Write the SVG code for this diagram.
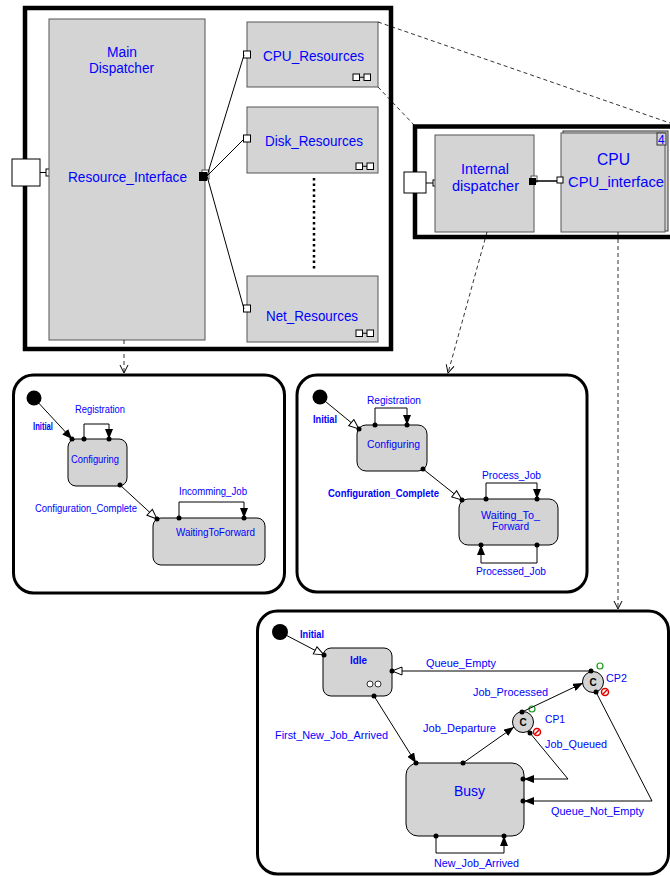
<svg xmlns="http://www.w3.org/2000/svg" width="670" height="876" viewBox="0 0 670 876">
<style>
.frame{fill:#fff;stroke:#000;stroke-width:4.5}
.box{fill:#d4d4d4;stroke:#555;stroke-width:1}
.sm{fill:#fff;stroke:#000;stroke-width:3}
.st{fill:#d4d4d4;stroke:#000;stroke-width:1}
.port{fill:#fff;stroke:#000;stroke-width:1}
.t{font-family:"Liberation Sans",Arial,sans-serif;fill:#0000ff}
.b{font-weight:bold}
.l{stroke:#000;stroke-width:1;fill:none}
.d{stroke:#000;stroke-width:0.8;stroke-dasharray:4 3;fill:none}
.dot{fill:#000}
.c{font-family:"Liberation Sans",Arial,sans-serif;font-weight:bold;font-size:10px;fill:#000;text-anchor:middle}
</style>
<defs>
<marker id="af" viewBox="0 0 10 8" refX="10" refY="4" markerWidth="10" markerHeight="8" orient="auto" markerUnits="userSpaceOnUse"><path d="M0,0 L10,4 L0,8 z" fill="#000"/></marker>
<marker id="ao" viewBox="0 0 12 10" refX="11" refY="5" markerWidth="12" markerHeight="10" orient="auto" markerUnits="userSpaceOnUse"><path d="M1,1 L11,5 L1,9 z" fill="#fff" stroke="#000" stroke-width="1"/></marker>
<marker id="av" viewBox="0 0 10 10" refX="9" refY="5" markerWidth="10" markerHeight="10" orient="auto" markerUnits="userSpaceOnUse"><path d="M1,1 L9,5 L1,9" fill="none" stroke="#000" stroke-width="1"/></marker>
<g id="icon2"><rect x="0" y="0" width="6.5" height="6.5" class="port"/><line x1="6.5" y1="3.25" x2="11" y2="3.25" class="l"/><rect x="11" y="0" width="6.5" height="6.5" class="port"/></g>
</defs>

<g id="main_frame">
<rect x="25" y="8" width="366" height="341" class="frame"/>
<rect x="12" y="159" width="28" height="27" class="port"/>
<line x1="40" y1="172.5" x2="46" y2="172.5" class="l"/>
<rect x="46" y="169" width="6" height="7" class="port"/>
</g>
<g id="main_dispatcher">
<rect x="49" y="19" width="156" height="321" class="box"/>
<text class="t" x="107" y="57" font-size="14" textLength="30" lengthAdjust="spacingAndGlyphs">Main</text>
<text class="t" x="89" y="73" font-size="14" textLength="65" lengthAdjust="spacingAndGlyphs">Dispatcher</text>
<text class="t" x="68" y="182" font-size="15" textLength="119" lengthAdjust="spacingAndGlyphs">Resource_Interface</text>
<rect x="202" y="170" width="7" height="9" fill="#fff" stroke="#555" stroke-width="1"/>
<rect x="199" y="172" width="8" height="9" fill="#000"/>
</g>
<g id="cpu_resources">
<rect x="247" y="22" width="131" height="65" class="box"/>
<rect x="243.5" y="51" width="7" height="7" class="port"/>
<text class="t" x="263" y="61" font-size="15" textLength="101" lengthAdjust="spacingAndGlyphs">CPU_Resources</text>
<use href="#icon2" x="353" y="74"/>
</g>
<g id="disk_resources">
<rect x="247" y="107" width="131" height="66" class="box"/>
<rect x="243.5" y="135" width="7" height="7" class="port"/>
<text class="t" x="265" y="146" font-size="15" textLength="98" lengthAdjust="spacingAndGlyphs">Disk_Resources</text>
<use href="#icon2" x="356" y="163"/>
</g>
<g id="net_resources">
<rect x="247" y="276" width="131" height="66" class="box"/>
<rect x="243.5" y="305" width="7" height="7" class="port"/>
<text class="t" x="266" y="321" font-size="15" textLength="92" lengthAdjust="spacingAndGlyphs">Net_Resources</text>
<use href="#icon2" x="356" y="330"/>
</g>

<g id="cpu_frame">
<rect x="415" y="126.5" width="270" height="110.5" class="frame"/>
<rect x="404" y="172" width="22" height="21" class="port"/>
<line x1="426" y1="183" x2="433" y2="183" class="l"/>
<rect x="433" y="180" width="5" height="6" class="port"/>
</g>
<g id="internal_dispatcher">
<rect x="435" y="135" width="99" height="97" class="box"/>
<text class="t" x="461" y="174" font-size="14" textLength="48" lengthAdjust="spacingAndGlyphs">Internal</text>
<text class="t" x="452" y="191" font-size="14" textLength="67" lengthAdjust="spacingAndGlyphs">dispatcher</text>
<rect x="531" y="176" width="6" height="6" fill="#fff" stroke="#555" stroke-width="1"/>
<rect x="529" y="178" width="7" height="7" fill="#000"/>
</g>
<g id="cpu">
<rect x="563" y="131" width="105" height="100" fill="#d4d4d4" stroke="#333" stroke-width="1"/>
<rect x="561" y="133" width="104" height="99" class="box"/>
<rect x="657" y="133" width="9" height="12" fill="#d4d4d4" stroke="#333" stroke-width="1"/>
<text class="t" x="658" y="144" font-size="12">4</text>
<rect x="557" y="177" width="6" height="6" class="port"/>
<text class="t" x="597" y="165" font-size="16" textLength="33" lengthAdjust="spacingAndGlyphs">CPU</text>
<text class="t" x="568" y="187" font-size="15" textLength="96" lengthAdjust="spacingAndGlyphs">CPU_interface</text>
</g>

<g id="sm1">
<rect x="13.5" y="375" width="271" height="218" rx="20" class="sm"/>
<circle cx="34" cy="398" r="7.5" fill="#000"/>
<text class="t b" x="33" y="430" font-size="10" textLength="20" lengthAdjust="spacingAndGlyphs">Initial</text>
<g id="sm1_configuring">
<rect x="68" y="439" width="59" height="47" rx="8" class="st"/>
<text class="t" x="71" y="463" font-size="10" textLength="48" lengthAdjust="spacingAndGlyphs">Configuring</text>
</g>
<g id="sm1_waiting">
<rect x="153" y="518" width="112" height="47" rx="8" class="st"/>
<text class="t" x="176" y="536" font-size="10" textLength="79" lengthAdjust="spacingAndGlyphs">WaitingToForward</text>
</g>
<text class="t" x="75" y="413" font-size="10" textLength="50" lengthAdjust="spacingAndGlyphs">Registration</text>
<text class="t" x="35" y="512" font-size="10" textLength="102" lengthAdjust="spacingAndGlyphs">Configuration_Complete</text>
<text class="t" x="179" y="495" font-size="10" textLength="68" lengthAdjust="spacingAndGlyphs">Incomming_Job</text>
</g>

<g id="sm2">
<rect x="297" y="375" width="290" height="217" rx="20" class="sm"/>
<circle cx="320" cy="397" r="7.5" fill="#000"/>
<text class="t b" x="313" y="423" font-size="10" textLength="24" lengthAdjust="spacingAndGlyphs">Initial</text>
<g id="sm2_configuring">
<rect x="357" y="425" width="70" height="46" rx="9" class="st"/>
<text class="t" x="367" y="448" font-size="11" textLength="53" lengthAdjust="spacingAndGlyphs">Configuring</text>
</g>
<g id="sm2_waiting">
<rect x="459" y="499" width="99" height="46" rx="9" class="st"/>
<text class="t" x="481" y="519" font-size="11" textLength="59" lengthAdjust="spacingAndGlyphs">Waiting_To_</text>
<text class="t" x="492" y="530" font-size="11" textLength="37" lengthAdjust="spacingAndGlyphs">Forward</text>
</g>
<text class="t" x="367" y="404" font-size="11" textLength="54" lengthAdjust="spacingAndGlyphs">Registration</text>
<text class="t b" x="328" y="497" font-size="10" textLength="111" lengthAdjust="spacingAndGlyphs">Configuration_Complete</text>
<text class="t" x="482" y="479" font-size="11" textLength="59" lengthAdjust="spacingAndGlyphs">Process_Job</text>
<text class="t" x="476" y="575" font-size="11" textLength="70" lengthAdjust="spacingAndGlyphs">Processed_Job</text>
</g>

<g id="sm3">
<rect x="257.5" y="611" width="411" height="263" rx="20" class="sm"/>
<circle cx="280" cy="632" r="8" fill="#000"/>
<text class="t b" x="300" y="638" font-size="10" textLength="24" lengthAdjust="spacingAndGlyphs">Initial</text>
<g id="sm3_idle">
<rect x="323" y="648" width="69" height="48" rx="8" class="st"/>
<text class="t b" x="350" y="664" font-size="10" textLength="17" lengthAdjust="spacingAndGlyphs">Idle</text>
<circle cx="370" cy="684" r="3" fill="#fff" stroke="#000" stroke-width="0.8"/>
<circle cx="378" cy="684" r="3" fill="#fff" stroke="#000" stroke-width="0.8"/>
</g>
<g id="sm3_busy">
<rect x="406" y="763" width="118" height="73" rx="12" class="st"/>
<text class="t" x="454" y="796" font-size="14" textLength="31" lengthAdjust="spacingAndGlyphs">Busy</text>
</g>
<g id="cp1">
<circle cx="523" cy="722" r="10.5" fill="#d4d4d4" stroke="#000" stroke-width="1"/>
<text class="c" x="523" y="726">C</text>
<circle cx="532" cy="709" r="3" fill="none" stroke="#1a9a1a" stroke-width="1.2"/>
<circle cx="537" cy="732" r="3.5" fill="none" stroke="#e00000" stroke-width="1.5"/>
<line x1="535" y1="734" x2="539" y2="730" stroke="#e00000" stroke-width="1.5"/>
<text class="t" x="545" y="723" font-size="11" textLength="20" lengthAdjust="spacingAndGlyphs">CP1</text>
</g>
<g id="cp2">
<circle cx="593" cy="682" r="10.5" fill="#d4d4d4" stroke="#000" stroke-width="1"/>
<text class="c" x="593" y="686">C</text>
<circle cx="600" cy="666" r="3" fill="none" stroke="#1a9a1a" stroke-width="1.2"/>
<circle cx="605" cy="692" r="3.5" fill="none" stroke="#e00000" stroke-width="1.5"/>
<line x1="603" y1="694" x2="607" y2="690" stroke="#e00000" stroke-width="1.5"/>
<text class="t" x="606" y="682" font-size="11" textLength="21" lengthAdjust="spacingAndGlyphs">CP2</text>
</g>
<text class="t" x="426" y="667" font-size="11" textLength="70" lengthAdjust="spacingAndGlyphs">Queue_Empty</text>
<text class="t" x="473" y="696" font-size="11" textLength="75" lengthAdjust="spacingAndGlyphs">Job_Processed</text>
<text class="t" x="423" y="732" font-size="11" textLength="73" lengthAdjust="spacingAndGlyphs">Job_Departure</text>
<text class="t" x="275" y="739" font-size="11" textLength="113" lengthAdjust="spacingAndGlyphs">First_New_Job_Arrived</text>
<text class="t" x="545" y="748" font-size="11" textLength="62" lengthAdjust="spacingAndGlyphs">Job_Queued</text>
<text class="t" x="551" y="815" font-size="11" textLength="93" lengthAdjust="spacingAndGlyphs">Queue_Not_Empty</text>
<text class="t" x="434" y="867" font-size="11" textLength="85" lengthAdjust="spacingAndGlyphs">New_Job_Arrived</text>
</g>

<g id="connectors">
<line x1="207" y1="176" x2="244" y2="55" class="l"/>
<line x1="207" y1="176" x2="244" y2="139" class="l"/>
<line x1="207" y1="176" x2="244" y2="309" class="l"/>
<line x1="314" y1="178" x2="314" y2="270" stroke="#000" stroke-width="2.5" stroke-dasharray="2.5 3"/>
<line x1="536" y1="181" x2="557" y2="181" stroke="#000" stroke-width="1.5"/>
<line x1="378" y1="22" x2="670" y2="123" class="d"/>
<line x1="378" y1="87" x2="415" y2="126" class="d"/>
<line x1="124" y1="340" x2="124" y2="373" class="d" marker-end="url(#av)"/>
<line x1="487" y1="232" x2="448" y2="373" class="d" marker-end="url(#av)"/>
<line x1="618" y1="232" x2="618" y2="609" class="d" marker-end="url(#av)"/>

<line x1="34" y1="398" x2="72" y2="439" class="l" marker-end="url(#af)"/>
<circle cx="72" cy="439" r="2.5" class="dot"/>
<polyline points="84,439 84,424 109,424 109,439" class="l" marker-end="url(#af)"/>
<circle cx="84" cy="439" r="2.5" class="dot"/>
<circle cx="109" cy="439" r="2.5" class="dot"/>
<line x1="120" y1="485" x2="157" y2="519" class="l" marker-end="url(#ao)"/>
<circle cx="120" cy="485" r="2.5" class="dot"/>
<circle cx="157" cy="519" r="2.5" class="dot"/>
<polyline points="179,518 179,502 244,502 244,518" class="l" marker-end="url(#af)"/>
<circle cx="179" cy="518" r="2.5" class="dot"/>
<circle cx="244" cy="518" r="2.5" class="dot"/>

<line x1="320" y1="397" x2="359" y2="429" class="l" marker-end="url(#ao)"/>
<circle cx="359" cy="429" r="2.5" class="dot"/>
<polyline points="375,425 375,408 407,408 407,425" class="l" marker-end="url(#af)"/>
<circle cx="375" cy="425" r="2.5" class="dot"/>
<circle cx="407" cy="425" r="2.5" class="dot"/>
<line x1="423" y1="469" x2="462" y2="500" class="l" marker-end="url(#ao)"/>
<circle cx="423" cy="469" r="2.5" class="dot"/>
<circle cx="462" cy="500" r="2.5" class="dot"/>
<polyline points="486,499 486,483 537,483 537,499" class="l" marker-end="url(#af)"/>
<circle cx="486" cy="499" r="2.5" class="dot"/>
<circle cx="537" cy="499" r="2.5" class="dot"/>
<polyline points="537,545 537,563 481,563 481,545" class="l" marker-end="url(#af)"/>
<circle cx="481" cy="545" r="2.5" class="dot"/>
<circle cx="537" cy="545" r="2.5" class="dot"/>

<line x1="280" y1="632" x2="324" y2="655" class="l" marker-end="url(#ao)"/>
<circle cx="324" cy="655" r="2.5" class="dot"/>
<line x1="591" y1="671" x2="392" y2="671" class="l" marker-end="url(#ao)"/>
<circle cx="591" cy="671" r="2.5" class="dot"/>
<circle cx="392" cy="671" r="2.5" class="dot"/>
<line x1="374" y1="696" x2="416" y2="763" class="l" marker-end="url(#af)"/>
<circle cx="374" cy="696" r="2.5" class="dot"/>
<circle cx="416" cy="763" r="2.5" class="dot"/>
<line x1="463" y1="763" x2="514" y2="727" class="l" marker-end="url(#af)"/>
<circle cx="463" cy="763" r="2.5" class="dot"/>
<line x1="522" y1="712" x2="583" y2="683" class="l" marker-end="url(#af)"/>
<circle cx="522" cy="712" r="2.5" class="dot"/>
<polyline points="530,733 568,779 524,779" class="l" marker-end="url(#af)"/>
<circle cx="530" cy="733" r="2.5" class="dot"/>
<circle cx="523" cy="779" r="2.5" class="dot"/>
<polyline points="596,692 652,801 524,801" class="l" marker-end="url(#af)"/>
<circle cx="596" cy="692" r="2.5" class="dot"/>
<circle cx="523" cy="801" r="2.5" class="dot"/>
<polyline points="436,836 436,853 504,853 504,836" class="l" marker-end="url(#af)"/>
<circle cx="436" cy="836" r="2.5" class="dot"/>
<circle cx="504" cy="836" r="2.5" class="dot"/>
</g>
</svg>
